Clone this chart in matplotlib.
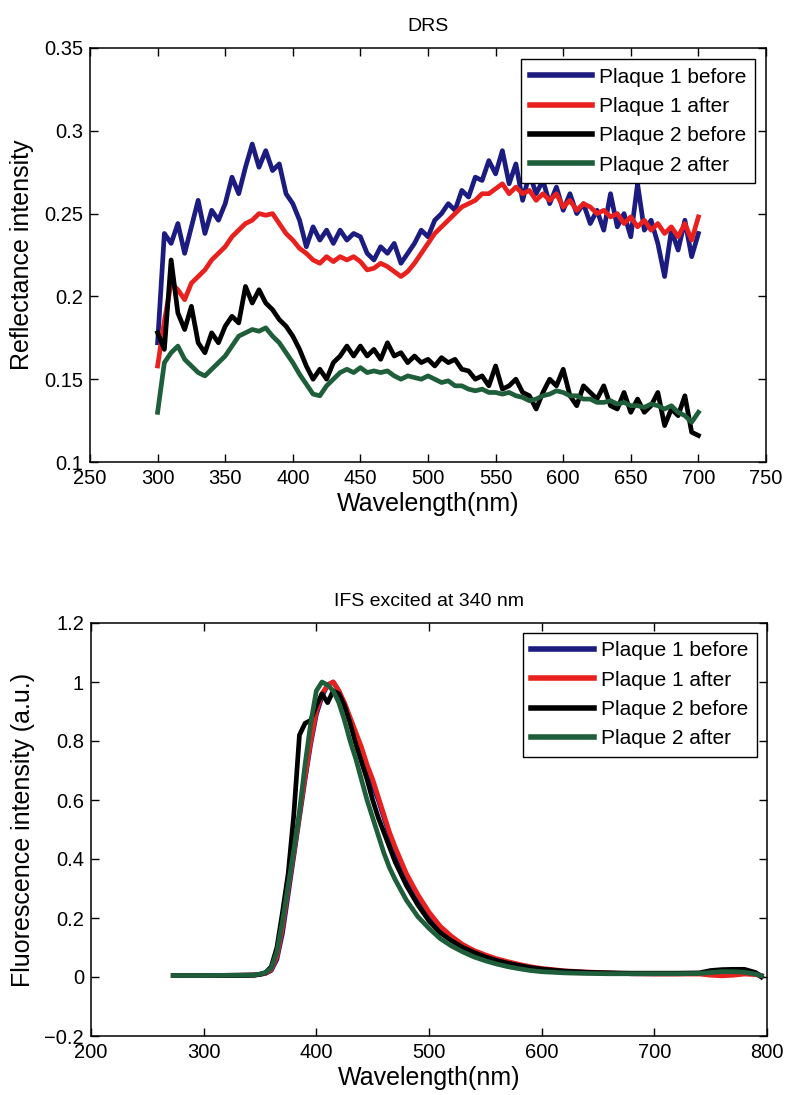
import numpy as np
import matplotlib
matplotlib.use("Agg")
import matplotlib.pyplot as plt
from matplotlib.ticker import FuncFormatter, MultipleLocator

plt.rcParams['font.family'] = ['Liberation Sans', 'DejaVu Sans']

labels = ["Plaque 1 before", "Plaque 1 after", "Plaque 2 before", "Plaque 2 after"]
colors = ["#1b1b80", "#e8211f", "#000000", "#1f5e3a"]

# ---- Diffuse reflectance spectra (sampled every 5 nm, 300-700 nm) ----
drs_wl = np.arange(300, 701, 5)
drs_p1_before = [
    0.172, 0.238, 0.232, 0.244, 0.226, 0.242, 0.258, 0.238, 0.252, 0.246,
    0.256, 0.272, 0.262, 0.278, 0.292, 0.278, 0.288, 0.276, 0.280, 0.262,
    0.256, 0.246, 0.230, 0.242, 0.234, 0.240, 0.232, 0.240, 0.234, 0.238,
    0.236, 0.226, 0.222, 0.230, 0.226, 0.232, 0.220, 0.226, 0.232, 0.240,
    0.236, 0.246, 0.250, 0.256, 0.252, 0.264, 0.260, 0.272, 0.270, 0.282,
    0.274, 0.288, 0.268, 0.280, 0.258, 0.274, 0.262, 0.270, 0.256, 0.266,
    0.252, 0.262, 0.250, 0.256, 0.244, 0.252, 0.240, 0.262, 0.242, 0.250,
    0.236, 0.268, 0.240, 0.246, 0.232, 0.212, 0.240, 0.228, 0.246, 0.224,
    0.238]
drs_p1_after = [
    0.158, 0.185, 0.208, 0.204, 0.198, 0.208, 0.212, 0.216, 0.222, 0.226,
    0.230, 0.236, 0.240, 0.244, 0.246, 0.250, 0.249, 0.250, 0.244, 0.238,
    0.234, 0.229, 0.226, 0.222, 0.220, 0.224, 0.221, 0.224, 0.222, 0.224,
    0.221, 0.216, 0.217, 0.220, 0.218, 0.215, 0.212, 0.215, 0.220, 0.226,
    0.232, 0.238, 0.242, 0.246, 0.250, 0.254, 0.256, 0.258, 0.262, 0.262,
    0.265, 0.268, 0.262, 0.266, 0.262, 0.264, 0.258, 0.262, 0.258, 0.262,
    0.254, 0.258, 0.252, 0.256, 0.254, 0.250, 0.252, 0.248, 0.250, 0.244,
    0.248, 0.242, 0.246, 0.240, 0.244, 0.238, 0.242, 0.236, 0.244, 0.234,
    0.248]
drs_p2_before = [
    0.178, 0.168, 0.222, 0.190, 0.180, 0.194, 0.172, 0.166, 0.178, 0.172,
    0.182, 0.188, 0.184, 0.206, 0.196, 0.204, 0.196, 0.192, 0.186, 0.182,
    0.176, 0.168, 0.158, 0.150, 0.156, 0.150, 0.160, 0.164, 0.170, 0.164,
    0.170, 0.164, 0.168, 0.162, 0.172, 0.164, 0.166, 0.160, 0.164, 0.160,
    0.162, 0.158, 0.163, 0.160, 0.162, 0.156, 0.155, 0.150, 0.152, 0.146,
    0.158, 0.144, 0.146, 0.150, 0.142, 0.140, 0.132, 0.142, 0.150, 0.146,
    0.156, 0.140, 0.134, 0.146, 0.142, 0.138, 0.146, 0.134, 0.132, 0.142,
    0.130, 0.138, 0.130, 0.134, 0.142, 0.122, 0.132, 0.128, 0.140, 0.118,
    0.116]
drs_p2_after = [
    0.130, 0.160, 0.166, 0.170, 0.162, 0.158, 0.154, 0.152, 0.156, 0.160,
    0.164, 0.170, 0.176, 0.178, 0.180, 0.179, 0.181, 0.176, 0.172, 0.166,
    0.160, 0.153, 0.147, 0.141, 0.140, 0.146, 0.150, 0.154, 0.156, 0.154,
    0.157, 0.154, 0.155, 0.154, 0.155, 0.152, 0.150, 0.152, 0.151, 0.150,
    0.152, 0.150, 0.148, 0.149, 0.146, 0.146, 0.144, 0.143, 0.144, 0.142,
    0.142, 0.141, 0.142, 0.140, 0.139, 0.137, 0.138, 0.140, 0.141, 0.143,
    0.142, 0.140, 0.140, 0.138, 0.138, 0.136, 0.136, 0.137, 0.135, 0.136,
    0.134, 0.134, 0.133, 0.135, 0.134, 0.132, 0.134, 0.130, 0.128, 0.124,
    0.130]

# ---- Normalised fluorescence spectra, 340 nm excitation ----
ifs_wl = [273, 300, 330, 345, 350, 355, 360, 365, 370, 375, 380, 385, 390, 395,
          400, 405, 410, 415, 420, 425, 430, 435, 440, 445, 450, 455, 460, 465,
          470, 480, 490, 500, 510, 520, 530, 540, 550, 560, 570, 580, 590, 600,
          620, 640, 660, 680, 700, 720, 740, 750, 760, 770, 780, 790, 795]
ifs_p1_before = [
    0.005, 0.005, 0.006, 0.007, 0.009, 0.012, 0.022, 0.06, 0.15, 0.28, 0.41, 0.54, 0.67, 0.79,
    0.89, 0.95, 0.99, 1.0, 0.97, 0.92, 0.87, 0.82, 0.77, 0.71, 0.65, 0.60, 0.54, 0.48,
    0.42, 0.33, 0.26, 0.205, 0.16, 0.128, 0.10, 0.082, 0.068, 0.056, 0.046, 0.038, 0.031, 0.026,
    0.019, 0.015, 0.013, 0.011, 0.011, 0.011, 0.012, 0.016, 0.019, 0.020, 0.019, 0.012, 0.005]
ifs_p1_after = [
    0.005, 0.005, 0.006, 0.007, 0.009, 0.013, 0.025, 0.07, 0.17, 0.30, 0.42, 0.55, 0.68, 0.80,
    0.90, 0.96, 0.99, 1.0, 0.97, 0.93, 0.88, 0.83, 0.78, 0.72, 0.67, 0.61, 0.55, 0.49,
    0.44, 0.35, 0.28, 0.22, 0.172, 0.138, 0.11, 0.09, 0.075, 0.062, 0.052, 0.043, 0.035, 0.029,
    0.021, 0.017, 0.014, 0.011, 0.010, 0.010, 0.010, 0.006, 0.004, 0.006, 0.010, 0.008, 0.004]
ifs_p2_before = [
    0.005, 0.005, 0.005, 0.006, 0.009, 0.015, 0.035, 0.10, 0.22, 0.35, 0.55, 0.82, 0.86, 0.87,
    0.92, 0.96, 0.93, 0.97, 0.96, 0.92, 0.86, 0.79, 0.73, 0.67, 0.60, 0.54, 0.49, 0.44,
    0.39, 0.31, 0.245, 0.19, 0.15, 0.123, 0.10, 0.083, 0.068, 0.056, 0.047, 0.039, 0.032, 0.027,
    0.020, 0.016, 0.014, 0.013, 0.013, 0.013, 0.014, 0.022, 0.025, 0.026, 0.026, 0.015, 0.0]
ifs_p2_after = [
    0.005, 0.005, 0.006, 0.007, 0.010, 0.015, 0.030, 0.085, 0.19, 0.31, 0.43, 0.56, 0.72, 0.86,
    0.97, 1.0, 0.99, 0.97, 0.93, 0.87, 0.80, 0.74, 0.67, 0.60, 0.54, 0.48, 0.42, 0.37,
    0.33, 0.26, 0.205, 0.165, 0.13, 0.105, 0.085, 0.068, 0.055, 0.044, 0.035, 0.028, 0.022, 0.018,
    0.014, 0.012, 0.011, 0.011, 0.011, 0.011, 0.012, 0.015, 0.018, 0.018, 0.016, 0.010, 0.004]

drs_series = [drs_p1_before, drs_p1_after, drs_p2_before, drs_p2_after]
ifs_series = [ifs_p1_before, ifs_p1_after, ifs_p2_before, ifs_p2_after]


def fmt(v, pos):
    s = "%g" % round(v, 6)
    return s.replace("-", "\u2212")


def style_axes(ax):
    ax.tick_params(direction="in", length=6, width=1, top=True, right=True,
                   labelsize=14.5, pad=5, color="black")
    for sp in ax.spines.values():
        sp.set_linewidth(1.1)
    ax.xaxis.set_major_formatter(FuncFormatter(fmt))
    ax.yaxis.set_major_formatter(FuncFormatter(fmt))


fig = plt.figure(figsize=(7.88, 10.95), dpi=100)
ax1 = fig.add_axes([90 / 788, 1 - 462 / 1095, 676 / 788, 414 / 1095])
ax2 = fig.add_axes([91 / 788, 1 - 1036 / 1095, 676 / 788, 413 / 1095])

for ys, c, lab in zip(drs_series, colors, labels):
    ax1.plot(drs_wl, ys, color=c, lw=3.4, label=lab, solid_joinstyle="round")
ax1.set_xlim(250, 750)
ax1.set_ylim(0.1, 0.35)
ax1.xaxis.set_major_locator(MultipleLocator(50))
ax1.yaxis.set_major_locator(MultipleLocator(0.05))
style_axes(ax1)
ax1.set_title("DRS", fontsize=14, pad=12)
ax1.set_xlabel("Wavelength(nm)", fontsize=18, labelpad=3)
ax1.set_ylabel("Reflectance intensity", fontsize=18, labelpad=7)

for ys, c, lab in zip(ifs_series, colors, labels):
    ax2.plot(ifs_wl, ys, color=c, lw=3.4, label=lab, solid_joinstyle="round")
ax2.set_xlim(200, 800)
ax2.set_ylim(-0.2, 1.2)
ax2.xaxis.set_major_locator(MultipleLocator(100))
ax2.yaxis.set_major_locator(MultipleLocator(0.2))
style_axes(ax2)
ax2.set_title("IFS excited at 340 nm", fontsize=14, pad=12)
ax2.set_xlabel("Wavelength(nm)", fontsize=18, labelpad=3)
ax2.set_ylabel("Fluorescence intensity (a.u.)", fontsize=18, labelpad=7)

for ax, anchor in ((ax1, (0.984, 0.973)), (ax2, (0.985, 0.976))):
    leg = ax.legend(loc="upper right", bbox_to_anchor=anchor, borderaxespad=0,
                    fontsize=15, fancybox=False, framealpha=1,
                    edgecolor="black", handlelength=3.0, handletextpad=0.35,
                    labelspacing=0.5, borderpad=0.4)
    leg.get_frame().set_linewidth(1.0)
    for h in leg.get_lines():
        h.set_linewidth(4)

fig.savefig("out.png", dpi=100)
